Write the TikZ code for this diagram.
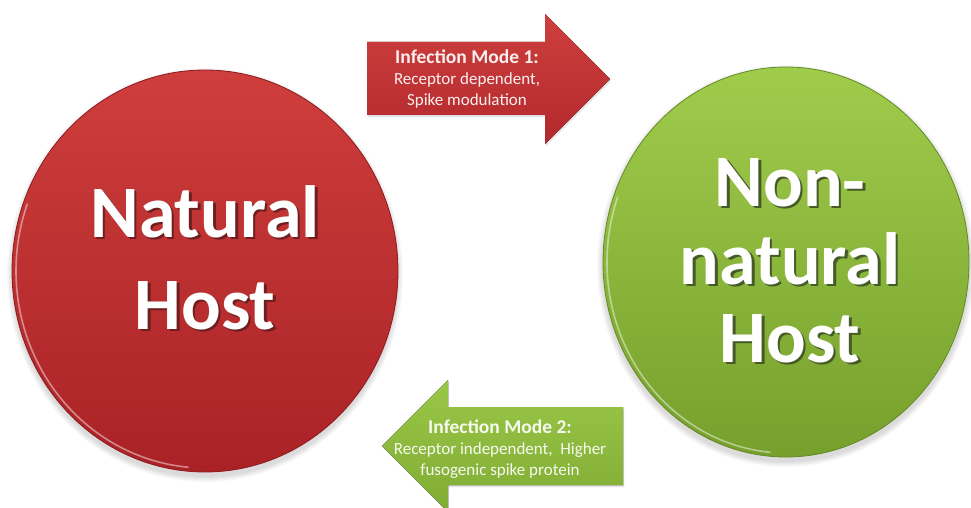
\documentclass[tikz,border=0pt]{standalone}
\usepackage{fontspec}
\setmainfont{Carlito}
\usetikzlibrary{shapes.geometric}

\definecolor{redtop}{RGB}{206,62,60}
\definecolor{redbottom}{RGB}{170,34,38}
\definecolor{redrim}{RGB}{140,26,30}
\definecolor{redshade}{RGB}{110,30,30}
\definecolor{greentop}{RGB}{160,204,76}
\definecolor{greenbottom}{RGB}{118,160,44}
\definecolor{greenrim}{RGB}{100,138,36}
\definecolor{greenshade}{RGB}{70,90,40}
\definecolor{arrowredtop}{RGB}{206,64,62}
\definecolor{arrowredbottom}{RGB}{178,40,44}
\definecolor{arrowgreentop}{RGB}{154,198,72}
\definecolor{arrowgreenbottom}{RGB}{128,172,52}

% white text with a dark copy cast below right
\newcommand\castshadow[2]{\leavevmode\rlap{\kern2.5pt\raisebox{-2.5pt}{\color{#1}#2}}#2}
\newcommand\modehead[1]{\textbf{\fontsize{19.5}{21}\selectfont #1}}

\begin{document}
\begin{tikzpicture}[x=1pt,y=-1pt,
		hostcircle/.style 2 args={ellipse, inner sep=0pt, minimum width=#1, minimum height=#2},
		hostlabel/.style={text=white, font=\bfseries\fontsize{74}{#1}\selectfont, align=center, inner sep=0pt},
		modelabel/.style={text=white, text opacity=0.92, font=\fontsize{17}{21}\selectfont, align=center, inner sep=0pt}]
		
		\useasboundingbox (0,0) rectangle (971,508);
		\fill [white] (0,0) rectangle (971,508);
		
		% soft shadows under the two hosts
		\foreach \k in {1,...,6} {
			\fill [black, opacity=0.025] (205,275) ellipse ({192+\k} and {201+\k});
			\fill [black, opacity=0.025] (786,266) ellipse ({183+\k} and {195+\k});
		}
		
		\node [hostcircle={386pt}{402pt}, top color=redtop, bottom color=redbottom, draw=redrim, line width=0.8pt] (nat) at (205,271) {};
		\node [hostcircle={366pt}{390pt}, top color=greentop, bottom color=greenbottom, draw=greenrim, line width=0.8pt] (non) at (786,262) {};
		
		% glossy rims on the lower left
		\draw [white, opacity=0.45, line width=1.6pt] (nat.center) ++(95:189 and 197) arc [start angle=95, end angle=200, x radius=189, y radius=197];
		\draw [white, opacity=0.45, line width=1.6pt] (non.center) ++(95:179 and 191) arc [start angle=95, end angle=200, x radius=179, y radius=191];
		
		\node [hostlabel=92] (natlbl) at (205,259) {\castshadow{redshade}{Natural}\\\castshadow{redshade}{Host}};
		\node [hostlabel=78] (nonlbl) at (790,262) {\castshadow{greenshade}{Non-}\\\castshadow{greenshade}{natural}\\\castshadow{greenshade}{Host}};
		
		% block arrows
		\fill [black, opacity=0.12] (368,44) -- (546,44) -- (546,16) -- (611,81) -- (546,146) -- (546,117) -- (368,117) -- cycle;
		\fill [top color=arrowredtop, bottom color=arrowredbottom] (367,42) -- (545,42) -- (545,14) -- (610,79) -- (545,144) -- (545,115) -- (367,115) -- cycle;
		\fill [black, opacity=0.12] (624,409) -- (449,409) -- (449,382) -- (383,448) -- (449,514) -- (449,487) -- (624,487) -- cycle;
		\fill [top color=arrowgreentop, bottom color=arrowgreenbottom] (623,407) -- (448,407) -- (448,380) -- (382,446) -- (448,512) -- (448,485) -- (623,485) -- cycle;
		
		\node [modelabel] (mode1) at (467,79) {\modehead{Infection Mode 1:}\\Receptor dependent,\\Spike modulation};
		\node [modelabel] (mode2) at (500,449) {\modehead{Infection Mode 2:}\\Receptor independent,~ Higher\\fusogenic spike protein};
	\end{tikzpicture}
\end{document}
